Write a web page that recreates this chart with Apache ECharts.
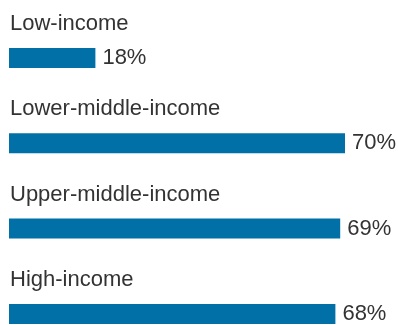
<!DOCTYPE html>
<html><head><meta charset="utf-8">
<script src="https://cdn.jsdelivr.net/npm/echarts@6/dist/echarts.min.js"></script>
<style>html,body{margin:0;padding:0;background:#fff}#c{width:398px;height:325px}</style>
</head><body><div id="c"></div>
<script>
var categories = ['Low-income', 'Lower-middle-income', 'Upper-middle-income', 'High-income'];
var values = [18, 70, 69, 68];

var chart = echarts.init(document.getElementById('c'), null, {renderer: 'canvas'});
chart.setOption({
  animation: false,
  grid: {left: 9, top: 15.3, width: 384, height: 341.3, outerBoundsMode: 'none', containLabel: false},
  xAxis: {type: 'value', min: 0, max: 80, show: false},
  yAxis: {
    type: 'category', data: categories, inverse: true,
    axisLine: {show: false}, axisTick: {show: false}, splitLine: {show: false},
    axisLabel: {
      inside: true, margin: 1, align: 'left', verticalAlign: 'bottom',
      padding: [0, 0, 23, 0],
      fontFamily: 'Liberation Sans, Arial, sans-serif', fontSize: 22, color: '#333333'
    }
  },
  series: [{
    type: 'bar', data: values, barWidth: 20,
    itemStyle: {color: '#0070a7'},
    label: {
      show: true, position: 'right', distance: 7,
      formatter: '{c}%',
      fontFamily: 'Liberation Sans, Arial, sans-serif', fontSize: 22, color: '#333333'
    }
  }]
});
</script></body></html>
